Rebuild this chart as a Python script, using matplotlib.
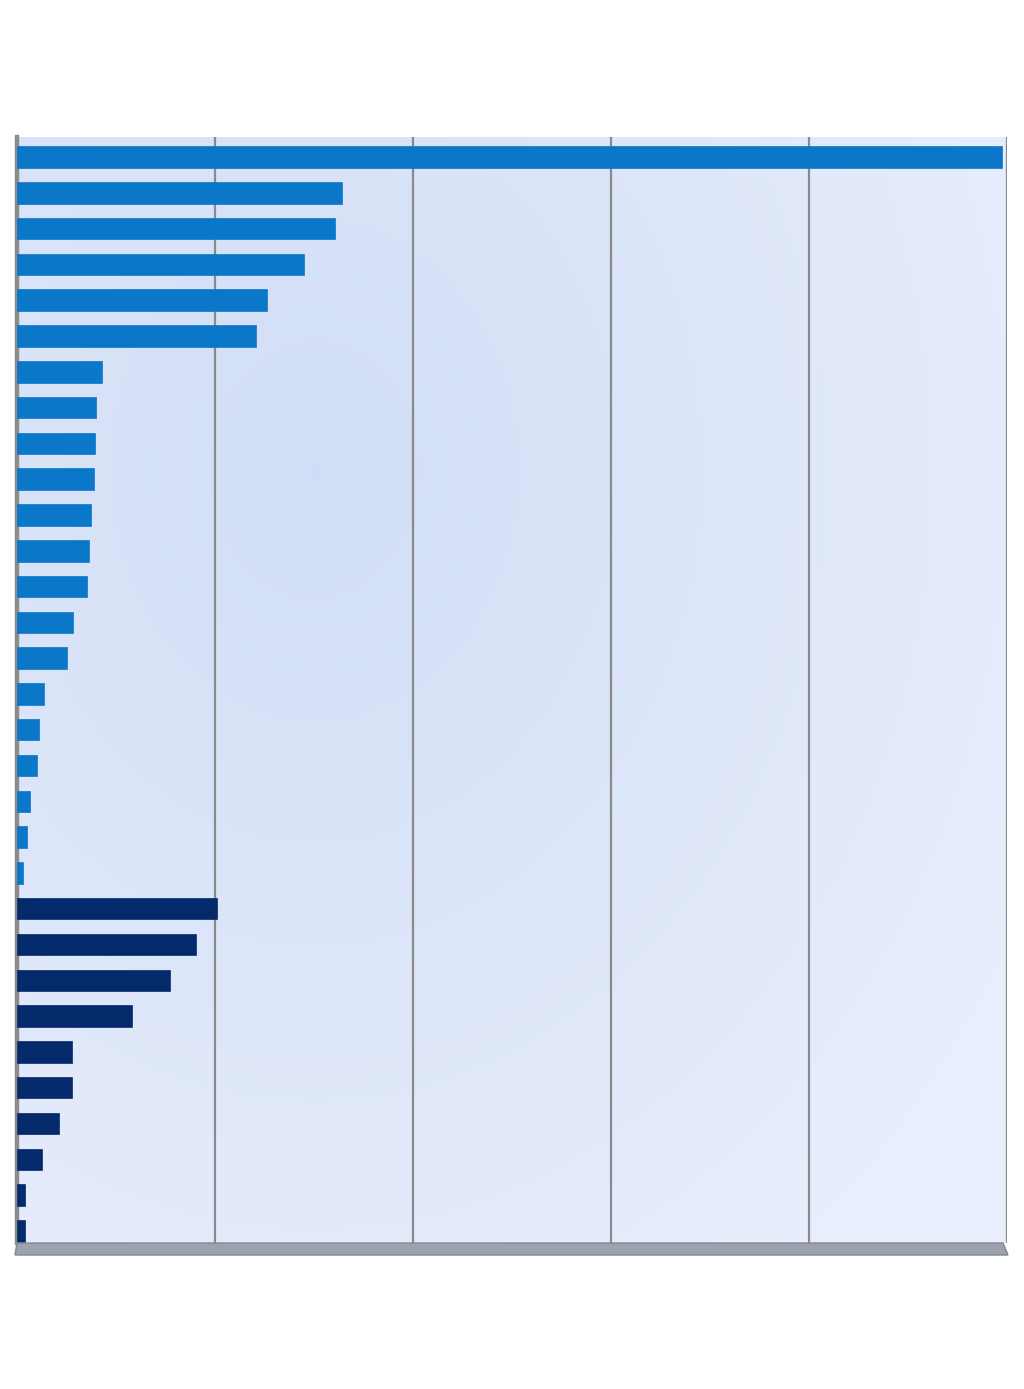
import numpy as np
import matplotlib
matplotlib.use("Agg")
from matplotlib import pyplot as plt
from matplotlib.patches import Polygon

# bar lengths (grid step = 20)
light_values = [99.55, 32.87, 32.14, 29.00, 25.30, 24.15, 8.59, 7.95, 7.88, 7.78,
                7.48, 7.25, 7.10, 5.66, 5.05, 2.70, 2.22, 2.02, 1.31, 1.04, 0.58]
dark_values = [20.21, 18.12, 15.46, 11.62, 5.53, 5.53, 4.27, 2.56, 0.84, 0.78]
grid_ticks = [0, 20, 40, 60, 80, 100]

light_col = "#0b77c9"
dark_col = "#052a6c"

W, H = 1024, 1389
fig = plt.figure(figsize=(W/100, H/100), dpi=100)
fig.patch.set_facecolor("white")

x0, x1 = 17, 1006.5
ytop, ybot = 137, 1243
ax = fig.add_axes([x0/W, 1-ybot/H, (x1-x0)/W, (ybot-ytop)/H])

n = len(light_values) + len(dark_values)
vals = light_values + dark_values
cols = [light_col]*len(light_values) + [dark_col]*len(dark_values)
pos = np.arange(n)

# background gradient
gx, gy = np.meshgrid(np.linspace(0, 1, 300), np.linspace(0, 1, 400))
d = np.sqrt(((gx-0.3)/1.0)**2 + ((gy-0.3)/1.1)**2)
d = np.clip(d/0.85, 0, 1)
c_in = np.array([0.820, 0.870, 0.965])
c_out = np.array([0.915, 0.937, 0.990])
img = c_in[None, None, :]*(1-d[..., None]) + c_out[None, None, :]*d[..., None]
corner = np.exp(-((gx/0.12)**2 + (gy/0.05)**2))
img = img*(1-0.08*corner[..., None]) + np.array([0.70, 0.76, 0.93])*0.08*corner[..., None]
ax.imshow(img, extent=[0, 100, 30.34, -0.56], aspect="auto", zorder=0,
          interpolation="bilinear")

for g in grid_ticks[1:]:
    ax.axvline(g, color="#8a8a8e", lw=1.6, zorder=1)

ax.barh(pos, vals, height=0.6, color=cols, edgecolor=cols, lw=0.5, zorder=3)

ax.set_xlim(0, 100)
ax.set_ylim(30.34, -0.56)
ax.set_xticks([])
ax.set_yticks([])
for s in ["top", "right", "bottom"]:
    ax.spines[s].set_visible(False)
ax.spines["left"].set_color("#8c8c8c")
ax.spines["left"].set_linewidth(3.2)

# floor band
floor = Polygon([(17/W, 1-1243/H), (1003/W, 1-1243/H), (1008/W, 1-1255/H), (15/W, 1-1255/H)],
                closed=True, transform=fig.transFigure, facecolor="#9da1b0",
                edgecolor="#85878f", lw=1.0)
fig.patches.append(floor)

plt.savefig("out.png", dpi=100)
